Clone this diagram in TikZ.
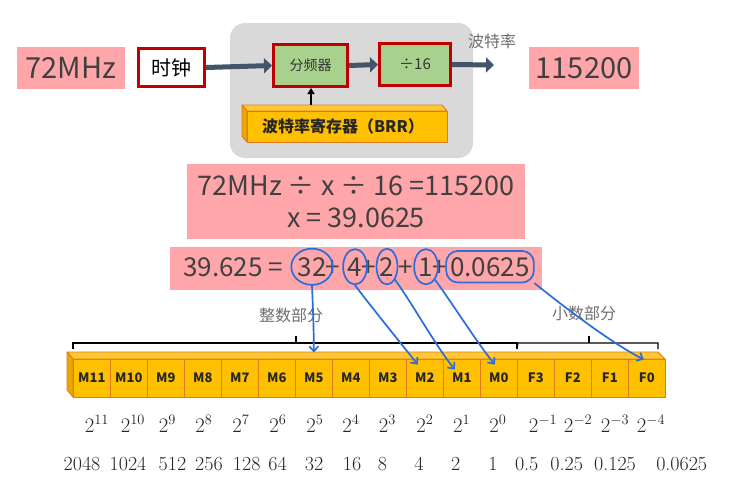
\documentclass[tikz,border=0pt]{standalone}
\usepackage{fontspec}
\usetikzlibrary{arrows.meta,shapes.geometric,fit,calc}
\newfontfamily\cjk{Noto Sans CJK SC}
\definecolor{pinkc}{HTML}{FFA6AA}
\definecolor{textc}{HTML}{404040}
\definecolor{redc}{HTML}{C00000}
\definecolor{greenc}{HTML}{A9D18E}
\definecolor{graybg}{HTML}{D9D9D9}
\definecolor{arrowc}{HTML}{44546A}
\definecolor{orangec}{HTML}{FFC000}
\definecolor{orangetop}{HTML}{FFC933}
\definecolor{orangeleft}{HTML}{E8A800}
\definecolor{orangeedge}{HTML}{E07B20}
\definecolor{handc}{HTML}{2A6EDC}
\definecolor{labelc}{HTML}{6F6F6F}
\tikzset{
  pinkbox/.style={fill=pinkc, inner sep=0pt, text=textc},
  redbox/.style={draw=redc, line width=3pt, inner sep=0pt},
  bigarrow/.style={draw=arrowc, line width=5pt, -{Triangle[length=8pt,width=15pt]}},
  cell/.style={draw=orangeedge, line width=0.9pt, fill=orangec, minimum width=37pt, minimum height=38pt, inner sep=0pt, font=\cjk\bfseries\fontsize{13}{13}\selectfont, text=black!85},
  hand/.style={draw=handc, line width=1.7pt, line cap=round, line join=round},
  handarrow/.style={hand, -{Straight Barb[length=5pt,width=9pt]}},
  handcirc/.style={hand, ellipse, inner xsep=0pt, inner ysep=3pt},
  graylabel/.style={text=labelc, font=\cjk\fontsize{16}{16}\selectfont},
  eqpiece/.style={inner sep=0pt, anchor=base, text=textc, font=\cjk\fontsize{26}{26}\selectfont},
  face/.style={draw=orangeedge, line width=0.9pt, line join=round},
}
\begin{document}
\begin{tikzpicture}[x=1pt,y=-1pt]
\useasboundingbox (0,0) rectangle (735,480);
\fill[white] (0,0) rectangle (735,480);

% top block
\fill[graybg, rounded corners=15pt] (230,23) rectangle (473,158);
\node[pinkbox, minimum width=108pt, minimum height=42pt, font=\cjk\fontsize{29}{29}\selectfont] (f72) at (71,68) {72MHz};
\node[redbox, fill=white, minimum width=66pt, minimum height=38pt, font=\cjk\fontsize{20}{20}\selectfont] (clk) at (171.5,67.5) {时钟};
\node[redbox, fill=greenc, minimum width=74pt, minimum height=42pt, font=\cjk\fontsize{14}{14}\selectfont, text=black!80] (fp) at (310.5,65.5) {分频器};
\node[redbox, fill=greenc, minimum width=71pt, minimum height=42pt, font=\cjk\fontsize{15}{15}\selectfont, text=black!80] (d16) at (415,64.5) {÷16};
\draw[bigarrow] (clk.east) -- (fp.west);
\draw[bigarrow] (fp.east) -- (d16.west);
\coordinate (outend) at (494,65);
\draw[bigarrow] (d16.east) -- (outend);
\node[graylabel] (bl) at (492,41) {波特率};
\node[pinkbox, minimum width=110pt, minimum height=42pt, font=\cjk\fontsize{29}{29}\selectfont] (f115) at (584,68) {115200};

% BRR 3D box
\filldraw[face, fill=orangetop] (242,105) -- (442,105) -- (447,111) -- (247,111) -- cycle;
\filldraw[face, fill=orangeleft] (242,105) -- (247,111) -- (247,142) -- (242,136) -- cycle;
\node[face, draw=orangeedge, fill=orangec, minimum width=200pt, minimum height=31pt, inner sep=0pt, font=\cjk\bfseries\fontsize{16}{16}\selectfont, text=black!85] (brr) at (347,126.5) {\hspace*{-8pt}波特率寄存器（BRR）};
\coordinate (brrtop) at (311,105);
\draw[line width=1.6pt, -{Triangle[length=6pt,width=7pt]}] (brrtop) -- (brrtop |- fp.south);

% equations
\node[pinkbox, minimum width=338pt, minimum height=75pt, align=center, font=\cjk\fontsize{27}{32}\selectfont] (eq1) at (356,201.5) {72MHz ÷ x ÷ 16 =115200\\x = 39.0625};
\node[pinkbox, minimum width=372pt, minimum height=43pt] (eq2) at (356,268.5) {};
\node[eqpiece, anchor=base west] (t0) at (183,276) {39.625\hspace{6pt}=};
\node[eqpiece] (n32) at (312,276) {32};
\node[eqpiece] (p1) at (333,276) {+};
\node[eqpiece] (n4) at (355,276) {4};
\node[eqpiece] (p2) at (369,276) {+};
\node[eqpiece] (n2) at (387,276) {2};
\node[eqpiece] (p3) at (406,276) {+};
\node[eqpiece] (n1) at (426,276) {1};
\node[eqpiece] (p4) at (440,276) {+};
\node[eqpiece] (n0625) at (490,276) {0.0625};

\node[handcirc, fit=(n32)] (c32) {};
\node[handcirc, inner xsep=1pt, fit=(n4)] (c4) {};
\node[handcirc, fit=(n2)] (c2) {};
\node[handcirc, inner xsep=1pt, fit=(n1)] (c1) {};
\node[hand, rounded corners=12pt, inner xsep=4pt, inner ysep=6pt, fit=(n0625)] (c0625) {};

% labels and brackets
\node[graylabel] (intlab) at (291,315) {整数部分};
\node[graylabel] (fraclab) at (584,313) {小数部分};
\coordinate (b1l) at (73,349);
\coordinate (b1r) at (517,349);
\coordinate (b2r) at (658,349);
\draw[line width=1.1pt] (b1l) -- ++(0,-6) -| (b1r);
\draw[line width=1.1pt] (296,343) -- (296,336);
\draw[line width=1.1pt] (b1r) -- ++(1,-6) -| (b2r);
\draw[line width=1.1pt] (589,343) -- (589,336);

% register 3D
\filldraw[face, fill=orangetop] (67,352) -- (658,352) -- (665,359) -- (73,359) -- cycle;
\filldraw[face, fill=orangeleft] (67,352) -- (73,359) -- (73,397) -- (67,390) -- cycle;
\foreach \lab [count=\i from 0] in {M11,M10,M9,M8,M7,M6,M5,M4,M3,M2,M1,M0,F3,F2,F1,F0}
  \node[cell] (\lab) at ({91.8+37*\i},378) {\lab};

% hand arrows
\draw[handarrow] (c32.south) .. controls +(1,25) and +(0,-25) .. ([yshift=6pt]M5.north);
\draw[handarrow] (c4.south) .. controls +(15,20) and +(-20,-25) .. ([shift={(-7,6)}]M2.north);
\draw[handarrow] (c2.south east) .. controls +(15,20) and +(-20,-25) .. ([shift={(-7,11)}]M1.north);
\draw[handarrow] (c1.south east) .. controls +(15,20) and +(-20,-25) .. ([shift={(-4,6)}]M0.north);
\draw[handarrow] (c0625.south east) .. controls +(25,20) and +(-35,-18) .. ([shift={(-3,1)}]F0.north);

% powers
\foreach \x/\e in {97/11,133/10,167.5/9,204/8,241/7,278/6,315/5,351/4,387.5/3,425/2,461.7/1,498/0,543/-1,578/-2,615/-3,651/-4}
  \node[text=black!85, font=\fontsize{20}{20}\selectfont, anchor=base] (pw\x) at (\x,432) {$2^{\e}$};
% values
\foreach \x/\v in {82/2048,128/1024,172.5/512,209/256,246.7/128,277.5/64,314/32,352/16,382.5/8,419/4,455.8/2,493/1,526.7/0.5,566.7/0.25,615/0.125,681.7/0.0625}
  \node[text=black!85, font=\fontsize{20}{20}\selectfont, anchor=base] (vl\x) at (\x,470) {\v};
\end{tikzpicture}
\end{document}
